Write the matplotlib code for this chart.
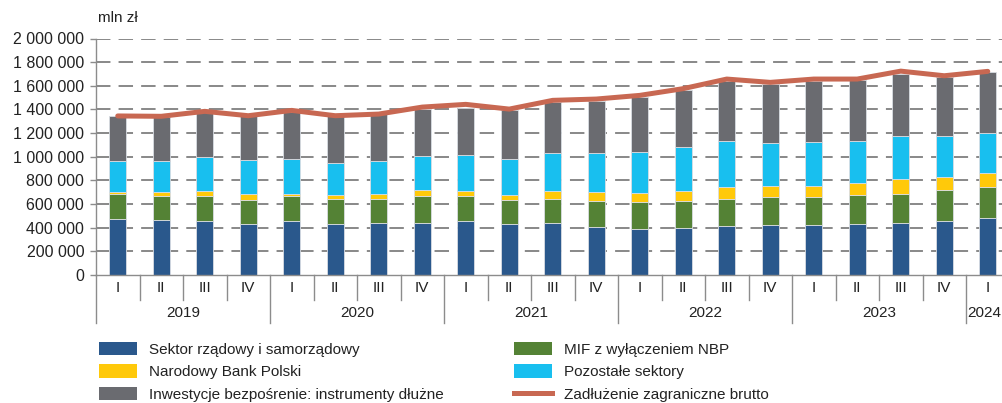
import matplotlib
matplotlib.use("Agg")
import matplotlib.pyplot as plt
import matplotlib.transforms as mtransforms
from matplotlib.patches import Patch
from matplotlib.lines import Line2D
import numpy as np

plt.rcParams['font.family'] = ['Liberation Sans', 'DejaVu Sans']

quarters = ["I", "II", "III", "IV"] * 5 + ["I"]
years = ["2019", "2020", "2021", "2022", "2023", "2024"]

sektor_rzadowy = [470, 461, 458, 430, 453, 433, 436, 441, 453, 428, 436, 408, 386, 399, 416, 425, 425, 430, 436, 453, 484]
mif = [213, 208, 206, 203, 214, 206, 205, 223, 216, 208, 208, 219, 233, 225, 228, 236, 236, 248, 250, 270, 264]
nbp = [23, 31, 47, 53, 16, 36, 45, 59, 42, 42, 65, 73, 76, 85, 99, 93, 90, 98, 124, 104, 113]
pozostale = [259, 265, 287, 284, 299, 273, 276, 287, 307, 304, 321, 330, 343, 371, 388, 360, 371, 361, 369, 352, 343]
inwestycje = [379, 371, 380, 380, 396, 402, 402, 393, 397, 410, 430, 438, 467, 487, 509, 498, 518, 509, 523, 495, 509]
zadluzenie = [1345, 1342, 1384, 1347, 1392, 1347, 1361, 1420, 1443, 1403, 1477, 1488, 1519, 1576, 1657, 1629, 1657, 1657, 1724, 1685, 1722]

labels = ["Sektor rządowy i samorządowy", "MIF z wyłączeniem NBP", "Narodowy Bank Polski",
          "Pozostałe sektory", "Inwestycje bezpośrenie: instrumenty dłużne", "Zadłużenie zagraniczne brutto"]
colors = ["#2A588C", "#548235", "#FFC90A", "#18BFEF", "#6A6B70"]
line_color = "#C86852"
FS = 11

W, H = 1003, 403
fig = plt.figure(figsize=(W / 100, H / 100), dpi=100)
ax = fig.add_axes([96 / W, 128 / H, (W - 96) / W, (275 - 38.5) / H])

x = np.arange(len(quarters))
series = [sektor_rzadowy, mif, nbp, pozostale, inwestycje]
bottom = np.zeros(len(x))
for vals, c in zip(series, colors):
    v = np.array(vals) * 1000
    ax.bar(x, v, width=0.40, bottom=bottom, color=c, edgecolor="#d9dde3", linewidth=0.6, zorder=2)
    bottom += v

ax.plot(x, np.array(zadluzenie) * 1000, color=line_color, linewidth=3.6, solid_capstyle="round", zorder=3)

ax.set_ylim(0, 2_000_000)
xright = -0.5 + (W - 96) / 43.5
ax.set_xlim(-0.5, xright)
yt = np.arange(0, 2_000_001, 200_000)
ax.set_yticks(yt)
ax.set_yticklabels([f"{int(v):,}".replace(",", " ") for v in yt], fontsize=11.5, color="#222222")
ax.tick_params(axis="y", direction="out", length=4.5, width=1, color="#8c8c8c", pad=4)
ax.set_xticks([])
for yv in yt[1:]:
    ax.axhline(yv, color="#7f7f7f", linewidth=1.3, linestyle=(0, (8, 4.5)), zorder=1)

for s in ["top", "right"]:
    ax.spines[s].set_visible(False)
ax.spines["left"].set_color("#8c8c8c")
ax.spines["bottom"].set_color("#8c8c8c")
ax.spines["left"].set_linewidth(1.0)
ax.spines["bottom"].set_linewidth(1.0)

# category axis
trans = mtransforms.blended_transform_factory(ax.transData, fig.transFigure)
def fy(py):
    return 1 - py / H

for i in range(len(x) + 1):
    b = i - 0.5
    low = 323 if i % 4 == 0 else 300
    ax.plot([b, b], [fy(275), fy(low)], transform=trans, color="#8c8c8c", lw=1.0, clip_on=False)
for i, q in enumerate(quarters):
    ax.text(i, fy(288), q, transform=trans, ha="center", va="center", fontsize=FS, color="#222222")
for k, yr in enumerate(years):
    start = k * 4 - 0.5
    end = min(k * 4 + 3.5, xright)
    ax.text((start + end) / 2, fy(313), yr, transform=trans, ha="center", va="center", fontsize=FS, color="#222222")

fig.text(98 / W, fy(18), "mln zł", ha="left", va="center", fontsize=FS, color="#222222")

# legend
h1 = [Patch(facecolor=colors[0]), Patch(facecolor=colors[2]), Patch(facecolor=colors[4])]
l1 = [labels[0], labels[2], labels[4]]
h2 = [Patch(facecolor=colors[1]), Patch(facecolor=colors[3]), Line2D([0], [0], color=line_color, lw=3.6)]
l2 = [labels[1], labels[3], labels[5]]
common = dict(frameon=False, fontsize=FS, handlelength=2.5, handleheight=0.95, handletextpad=0.75,
              labelspacing=0.5, borderpad=0, borderaxespad=0, loc="upper left")
leg1 = fig.legend(h1, l1, bbox_to_anchor=(99 / W, fy(342)), **common)
leg2 = fig.legend(h2, l2, bbox_to_anchor=(514 / W, fy(342)), **common)
for leg in (leg1, leg2):
    for t in leg.get_texts():
        t.set_color("#222222")

fig.savefig("out.png", dpi=100)
